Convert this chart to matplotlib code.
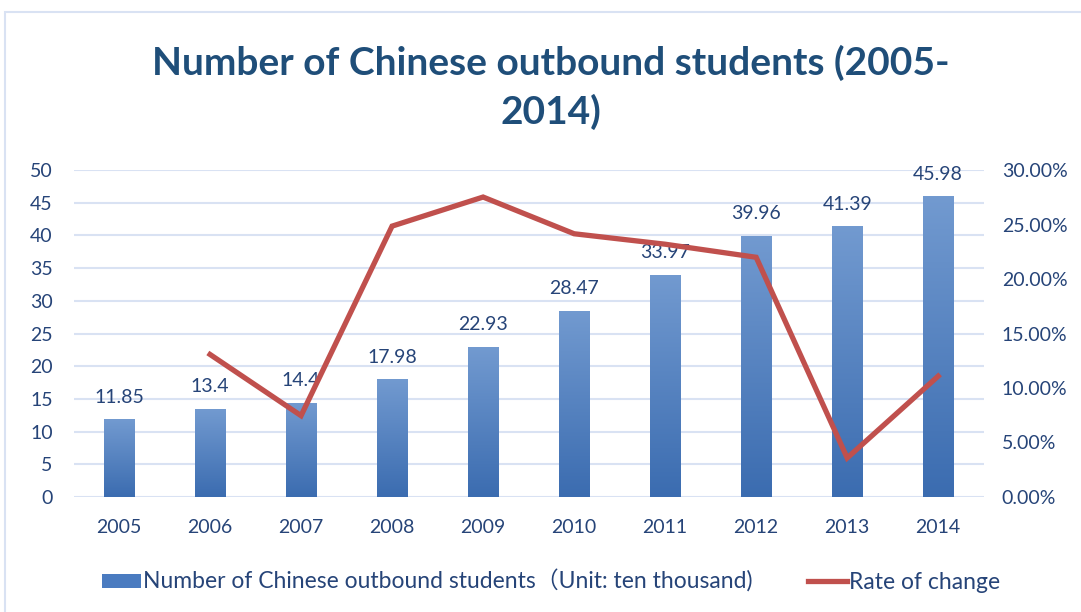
import numpy as np
import matplotlib
matplotlib.use("Agg")
import matplotlib.pyplot as plt
from matplotlib.patches import Rectangle
from matplotlib.lines import Line2D

years = ["2005", "2006", "2007", "2008", "2009", "2010", "2011", "2012", "2013", "2014"]
students = [11.85, 13.4, 14.4, 17.98, 22.93, 28.47, 33.97, 39.96, 41.39, 45.98]
# rate of change for 2006-2014 (no value for 2005)
rate = [np.nan, 0.1308, 0.0746, 0.2486, 0.2753, 0.2416, 0.232, 0.220, 0.0358, 0.1109]

plt.rcParams['font.family'] = ['Lato', 'Noto Sans CJK SC', 'DejaVu Sans']
text_col = "#264478"
grid_col = "#D9E2F3"
bar_top = np.array([0x72, 0x9A, 0xD0]) / 255
bar_bot = np.array([0x3B, 0x6C, 0xB0]) / 255
line_col = "#C0504D"

fig = plt.figure(figsize=(10.81, 6.12), dpi=100)
fig.patches.append(Rectangle((5 / 1081, -0.1), 1.2, 1 - 12 / 612 + 0.1,
                             transform=fig.transFigure, fill=False,
                             edgecolor=grid_col, linewidth=1.5))

ax = fig.add_axes([0.068, 0.188, 0.842, 0.534])
x = np.arange(len(years))
bars = ax.bar(x, students, width=0.33, color=bar_bot, zorder=2)

# vertical gradient inside each bar
grad = np.linspace(0, 1, 256)[:, None, None]
img = bar_bot * (1 - grad) + bar_top * grad
for b in bars:
    x0, y0 = b.get_x(), b.get_y()
    w, h = b.get_width(), b.get_height()
    im = ax.imshow(img, extent=[x0, x0 + w, y0, y0 + h], origin="lower",
                   aspect="auto", zorder=3)
    im.set_clip_path(b)

for xi, v in zip(x, students):
    ax.annotate(f"{v:g}", (xi, v), xytext=(0, 10), textcoords="offset points",
                ha="center", va="bottom", fontsize=14, color=text_col, zorder=6)

ax.set_xlim(-0.5, len(years) - 0.5)
ax.set_ylim(0, 50)
ax.set_yticks(np.arange(0, 51, 5))
ax.set_xticks(x)
ax.set_xticklabels(years)
ax.grid(axis="y", color=grid_col, linewidth=1.5, zorder=0)
ax.set_axisbelow(True)
for s in ax.spines.values():
    s.set_visible(False)
ax.tick_params(axis="both", length=0, labelsize=14, colors=text_col)
ax.tick_params(axis="y", pad=15)
ax.tick_params(axis="x", pad=16)

ax2 = ax.twinx()
ax2.plot(x, rate, color=line_col, linewidth=3.8, zorder=5, solid_joinstyle="miter")
ax2.set_ylim(0, 0.30)
ax2.set_yticks(np.arange(0, 0.301, 0.05))
ax2.set_yticklabels([f"{v * 100:.2f}%" for v in np.arange(0, 0.301, 0.05)])
for s in ax2.spines.values():
    s.set_visible(False)
ax2.tick_params(axis="y", length=0, labelsize=14, colors=text_col, pad=13)

fig.text(0.51, 0.857, "Number of Chinese outbound students (2005-\n2014)",
         ha="center", va="center", fontsize=28, fontweight="bold",
         color="#1F4E79", linespacing=1.42)

handles = [Rectangle((0, 0), 1, 1, facecolor="#4A7BC0"),
           Line2D([0], [0], color=line_col, linewidth=3.8)]
labels = ["Number of Chinese outbound students\uff08Unit: ten thousand)", "Rate of change"]
fig.legend(handles, labels, loc="center", bbox_to_anchor=(0.51, 0.05), ncol=2,
           frameon=False, fontsize=16.5, labelcolor=text_col, handlelength=1.7,
           handleheight=0.55, handletextpad=0.1, columnspacing=2.4)

fig.savefig("out.png", dpi=100)
